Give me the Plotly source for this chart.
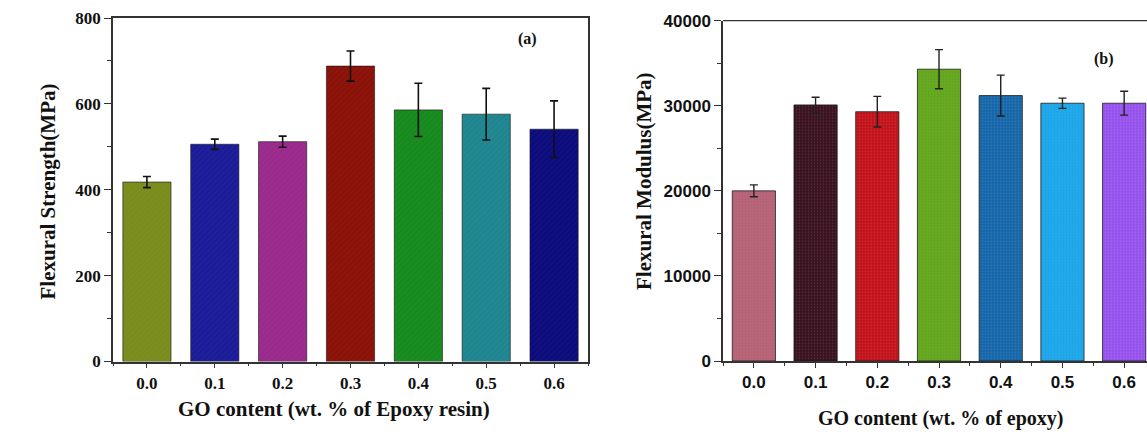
import plotly.graph_objects as go

W, H = 1147, 432

# GO loading levels (wt. %)
go_content = ["0.0", "0.1", "0.2", "0.3", "0.4", "0.5", "0.6"]
x_pos = list(range(len(go_content)))

# (a) flexural strength, MPa
strength = [418, 506, 512, 688, 586, 576, 541]
strength_err = [13, 12, 13, 35, 62, 60, 66]
strength_colors = ["#7a8c1c", "#1c1c98", "#9a2a8c", "#8a1208",
                   "#178a1e", "#1f8690", "#0c0c7c"]

# (b) flexural modulus, MPa
modulus = [20000, 30100, 29300, 34300, 31200, 30300, 30300]
modulus_err = [700, 900, 1800, 2300, 2400, 600, 1400]
modulus_colors = ["#b9657a", "#3a1220", "#c2121a", "#66aa20",
                  "#1666aa", "#20aaee", "#9752ee"]


def px_x(p):
    return p / W


def px_y(p):
    return 1 - p / H


SERIF = "Liberation Serif"
SANS = "Liberation Sans"

fig = go.Figure()

fig.add_trace(go.Bar(
    x=x_pos, y=strength, width=0.71,
    marker=dict(color=strength_colors,
                line=dict(color="rgba(20,20,20,0.6)", width=1),
                pattern=dict(shape="/", size=4, solidity=0.12,
                             fgcolor="white", fgopacity=0.08, fillmode="overlay")),
    error_y=dict(type="data", array=strength_err, color="#111111",
                 thickness=1.6, width=4),
    xaxis="x", yaxis="y", showlegend=False,
))

fig.add_trace(go.Bar(
    x=x_pos, y=modulus, width=0.70,
    marker=dict(color=modulus_colors,
                line=dict(color="rgba(20,20,20,0.75)", width=1),
                pattern=dict(shape=".", size=3, solidity=0.2,
                             fgcolor="white", fgopacity=0.15, fillmode="overlay")),
    error_y=dict(type="data", array=modulus_err, color="#222222",
                 thickness=1.4, width=4),
    xaxis="x2", yaxis="y2", showlegend=False,
))

axis_common = dict(showgrid=False, zeroline=False, showline=True, automargin=False,
                   linecolor="#333333", linewidth=1.5, ticks="outside",
                   tickcolor="#333333", tickwidth=1.2)

fig.update_layout(
    width=W, height=H,
    margin=dict(l=0, r=0, t=0, b=0, pad=0),
    paper_bgcolor="white", plot_bgcolor="white",
    bargap=0.29,
    xaxis=dict(**axis_common, domain=[px_x(113), px_x(588)], range=[-0.5, 6.5],
               tickvals=x_pos, ticktext=go_content, ticklen=5, mirror=True,
               minor=dict(dtick=0.5, tick0=0.5, ticks="outside", ticklen=3,
                          tickcolor="#333333"),
               tickfont=dict(family=SERIF, size=17, color="#111111", weight="bold"),
               anchor="y"),
    yaxis=dict(**axis_common, domain=[px_y(361.5), px_y(18)], range=[0, 800],
               dtick=200, ticklen=7, mirror=True,
               minor=dict(dtick=100, ticks="outside", ticklen=4, tickcolor="#333333"),
               tickfont=dict(family=SERIF, size=17, color="#111111", weight="bold"),
               anchor="x"),
    xaxis2=dict(**axis_common, domain=[px_x(723), 1.0], range=[-0.5, 6.37],
                tickvals=x_pos, ticktext=go_content, ticklen=5, mirror=False,
                minor=dict(dtick=0.5, tick0=0.5, ticks="outside", ticklen=3,
                           tickcolor="#333333"),
                tickfont=dict(family=SANS, size=17, color="#111111", weight="bold"),
                anchor="y2"),
    yaxis2=dict(**axis_common, domain=[px_y(361), px_y(20.7)], range=[0, 40000],
                dtick=10000, tickformat="d", ticklen=7, mirror=False,
                minor=dict(dtick=5000, ticks="outside", ticklen=4, tickcolor="#333333"),
                tickfont=dict(family=SANS, size=17, color="#111111", weight="bold"),
                anchor="x2"),
)

# top border of panel (b) (its right edge lies beyond the canvas)
fig.add_shape(type="line", xref="paper", yref="paper",
              x0=px_x(723), x1=1.0, y0=px_y(20.7), y1=px_y(20.7),
              line=dict(color="#333333", width=1.2))


def label(text, x, y, size, family=SERIF, angle=0):
    fig.add_annotation(text=text, xref="paper", yref="paper",
                       x=px_x(x), y=px_y(y), xanchor="center", yanchor="middle",
                       showarrow=False, textangle=angle,
                       font=dict(family=family, size=size, color="#111111",
                                 weight="bold"))


label("Flexural Strength(MPa)", 47.5, 192, 21, angle=-90)
label("GO content (wt. % of Epoxy resin)", 334, 409, 21)
label("(a)", 527, 39, 16)

label("Flexural Modulus(MPa)", 644, 181, 21, angle=-90)
label("GO content (wt. % of epoxy)", 941, 418, 20)
label("(b)", 1104, 59, 16)

fig.write_html("out.html")
